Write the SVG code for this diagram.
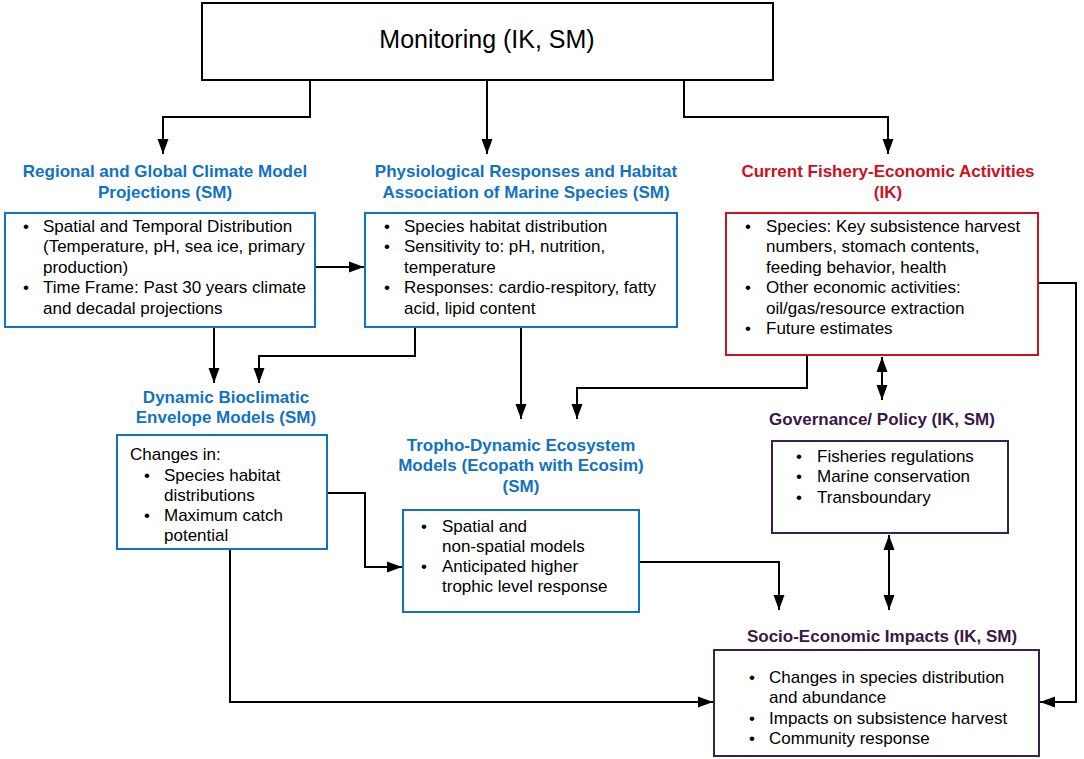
<svg xmlns="http://www.w3.org/2000/svg" width="1084" height="759" viewBox="0 0 1084 759">
<style>
.bg{fill:#fff}
.box{fill:#fff;stroke-width:2}
.blue{stroke:#1172c4}
.red{stroke:#d0121f}
.purple{stroke:#3d1f4b}
.black{stroke:#000}
.h{font-family:"Liberation Sans",Arial,sans-serif;font-weight:bold;font-size:17px;text-anchor:middle}
.hb{fill:#1172c4}
.hr{fill:#cc1122}
.hp{fill:#3b1747}
.t{font-family:"Liberation Sans",Arial,sans-serif;font-size:17px;fill:#000}
.b{text-anchor:middle}
.c{fill:none;stroke:#000;stroke-width:2}
</style>
<defs>
<marker id="ah" markerUnits="userSpaceOnUse" markerWidth="16" markerHeight="12" refX="15" refY="6" orient="auto-start-reverse" viewBox="0 0 16 12">
<path d="M0,0.5 L15,6 L0,11.5 z" fill="#000"/>
</marker>
</defs>
<rect class="bg" x="0" y="0" width="1084" height="759"/>

<g id="connectors">
<path class="c" d="M310,80 V117 H163 V154" marker-end="url(#ah)"/>
<path class="c" d="M487,80 V154" marker-end="url(#ah)"/>
<path class="c" d="M684,80 V117 H888 V154" marker-end="url(#ah)"/>
<path class="c" d="M315,267 H364" marker-end="url(#ah)"/>
<path class="c" d="M214,327 V383" marker-end="url(#ah)"/>
<path class="c" d="M415,327 V356 H259 V383" marker-end="url(#ah)"/>
<path class="c" d="M521,327 V419" marker-end="url(#ah)"/>
<path class="c" d="M807,355 V388 H577 V419" marker-end="url(#ah)"/>
<path class="c" d="M882,357 V400" marker-start="url(#ah)" marker-end="url(#ah)"/>
<path class="c" d="M327,493 H365 V567 H402" marker-end="url(#ah)"/>
<path class="c" d="M639,562 H779 V610" marker-end="url(#ah)"/>
<path class="c" d="M889,535 V610" marker-start="url(#ah)" marker-end="url(#ah)"/>
<path class="c" d="M230,549 V702 H713" marker-end="url(#ah)"/>
<path class="c" d="M1038,283 H1076 V702 H1040" marker-end="url(#ah)"/>
</g>

<g id="monitoring">
<rect class="box black" x="202" y="3" width="571" height="77"/>
<text x="487" y="48" style="font-family:'Liberation Sans',Arial,sans-serif;font-size:25px;text-anchor:middle">Monitoring (IK, SM)</text>
</g>

<g id="climate-models">
<text class="h hb" x="165" y="177">Regional and Global Climate Model</text>
<text class="h hb" x="165" y="198">Projections (SM)</text>
<rect class="box blue" x="5" y="213" width="310" height="114"/>
<g class="t">
<text class="b" x="26" y="232">•</text><text x="43" y="232">Spatial and Temporal Distribution</text>
<text x="43" y="252">(Temperature, pH, sea ice, primary</text>
<text x="43" y="273">production)</text>
<text class="b" x="26" y="293">•</text><text x="43" y="293">Time Frame: Past 30 years climate</text>
<text x="43" y="314">and decadal projections</text>
</g>
</g>

<g id="physiological">
<text class="h hb" x="526" y="177">Physiological Responses and Habitat</text>
<text class="h hb" x="526" y="198">Association of Marine Species (SM)</text>
<rect class="box blue" x="365" y="213" width="312" height="114"/>
<g class="t">
<text class="b" x="387" y="232">•</text><text x="404" y="232">Species habitat distribution</text>
<text class="b" x="387" y="252">•</text><text x="404" y="252">Sensitivity to: pH, nutrition,</text>
<text x="404" y="273">temperature</text>
<text class="b" x="387" y="293">•</text><text x="404" y="293">Responses: cardio-respitory, fatty</text>
<text x="404" y="314">acid, lipid content</text>
</g>
</g>

<g id="fishery">
<text class="h hr" x="888" y="177">Current Fishery-Economic Activities</text>
<text class="h hr" x="888" y="198">(IK)</text>
<rect class="box red" x="726" y="213" width="312" height="142"/>
<g class="t">
<text class="b" x="748" y="232">•</text><text x="766" y="232">Species: Key subsistence harvest</text>
<text x="766" y="252">numbers, stomach contents,</text>
<text x="766" y="273">feeding behavior, health</text>
<text class="b" x="748" y="293">•</text><text x="766" y="293">Other economic activities:</text>
<text x="766" y="314">oil/gas/resource extraction</text>
<text class="b" x="748" y="334">•</text><text x="766" y="334">Future estimates</text>
</g>
</g>

<g id="bioclimatic">
<text class="h hb" x="226" y="403">Dynamic Bioclimatic</text>
<text class="h hb" x="226" y="423">Envelope Models (SM)</text>
<rect class="box blue" x="117" y="435" width="210" height="114"/>
<g class="t">
<text x="130" y="460">Changes in:</text>
<text class="b" x="147" y="481">•</text><text x="164" y="481">Species habitat</text>
<text x="164" y="501">distributions</text>
<text class="b" x="147" y="521">•</text><text x="164" y="521">Maximum catch</text>
<text x="164" y="541">potential</text>
</g>
</g>

<g id="trophodynamic">
<text class="h hb" x="521" y="451">Tropho-Dynamic Ecosystem</text>
<text class="h hb" x="521" y="471">Models (Ecopath with Ecosim)</text>
<text class="h hb" x="521" y="492">(SM)</text>
<rect class="box blue" x="403" y="510" width="236" height="102"/>
<g class="t">
<text class="b" x="424" y="532">•</text><text x="442" y="532">Spatial and</text>
<text x="442" y="552">non-spatial models</text>
<text class="b" x="424" y="572">•</text><text x="442" y="572">Anticipated higher</text>
<text x="442" y="592">trophic level response</text>
</g>
</g>

<g id="governance">
<text class="h hp" x="882" y="425">Governance/ Policy (IK, SM)</text>
<rect class="box purple" x="772" y="441" width="236" height="92"/>
<g class="t">
<text class="b" x="799" y="462">•</text><text x="817" y="462">Fisheries regulations</text>
<text class="b" x="799" y="482">•</text><text x="817" y="482">Marine conservation</text>
<text class="b" x="799" y="503">•</text><text x="817" y="503">Transboundary</text>
</g>
</g>

<g id="socioeconomic">
<text class="h hp" x="882" y="642">Socio-Economic Impacts (IK, SM)</text>
<rect class="box purple" x="714" y="650" width="325" height="106"/>
<g class="t">
<text class="b" x="752" y="683">•</text><text x="769" y="683">Changes in species distribution</text>
<text x="769" y="703">and abundance</text>
<text class="b" x="752" y="724">•</text><text x="769" y="724">Impacts on subsistence harvest</text>
<text class="b" x="752" y="744">•</text><text x="769" y="744">Community response</text>
</g>
</g>
</svg>
